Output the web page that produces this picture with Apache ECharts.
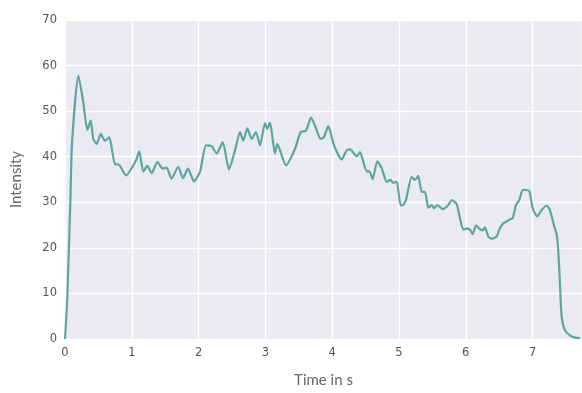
<!DOCTYPE html>
<html>
<head>
<meta charset="utf-8">
<script src="https://cdn.jsdelivr.net/npm/echarts@6/dist/echarts.min.js"></script>
<style>html,body{margin:0;padding:0;background:#fff}#c{width:582px;height:393px}</style>
</head>
<body>
<div id="c"></div>
<script>
const times = [0,0.034,0.08,0.105,0.20,0.274,0.334,0.385,0.424,0.475,0.534,0.599,0.663,0.749,0.798,0.913,1.063,1.112,1.172,1.232,1.298,1.385,1.457,1.522,1.594,1.696,1.766,1.841,1.931,2.021,2.111,2.196,2.271,2.361,2.455,2.545,2.620,2.669,2.729,2.795,2.859,2.919,2.994,3.028,3.069,3.144,3.178,3.308,3.443,3.528,3.608,3.683,3.743,3.828,3.877,3.942,4.027,4.142,4.217,4.266,4.367,4.416,4.516,4.555,4.606,4.675,4.741,4.816,4.876,4.906,4.966,5.025,5.064,5.105,5.190,5.240,5.289,5.340,5.389,5.439,5.490,5.524,5.573,5.654,5.738,5.789,5.864,5.913,5.963,6.013,6.063,6.103,6.153,6.213,6.253,6.287,6.337,6.388,6.463,6.502,6.561,6.602,6.651,6.702,6.751,6.801,6.852,6.901,6.951,7.002,7.070,7.136,7.211,7.260,7.325,7.361,7.385,7.410,7.436,7.485,7.560,7.635,7.710];
const intensity = [0,9,30,43,57.8,51.9,45.9,47.9,43.9,42.8,45,43.5,44.3,38.3,38.3,35.9,39.2,41.2,36.7,38,36.4,38.9,37.4,37.6,35.2,37.8,35.3,37.4,34.6,36.7,42.5,42.3,40.7,43.2,37.2,41.4,45.4,43.5,46.2,43.9,45.4,42.5,47.4,46.1,47.5,40.7,42.8,38.1,41.7,45.4,45.7,48.6,46.8,43.9,44.3,46.7,42.5,39.4,41.4,41.6,40.1,41,36.8,36.8,35.1,39,37.5,34.5,34.9,34.3,34.5,29.3,29.4,30.5,35.6,34.9,35.8,32.3,32.3,28.8,29.4,28.7,29.4,28.5,29.4,30.5,29.6,26.5,24,24.2,24,23,24.9,24.1,23.8,24.5,22.5,22,22.5,24,25.4,25.7,26.2,26.5,29.4,30.5,32.7,32.7,32.5,28.7,26.9,28.3,29.3,28.3,24.7,22.9,19.3,12,4.8,1.9,0.8,0.3,0.2];
const xTicks = [0,1,2,3,4,5,6,7];
const yTicks = [0,10,20,30,40,50,60,70];

const data = times.map((t,i)=>[t,intensity[i]]);
const chart = echarts.init(document.getElementById('c'), null, {renderer:'canvas'});
chart.setOption({
  animation:false,
  backgroundColor:'#ffffff',
  grid:{left:65,right:0,top:20,bottom:51,show:true,backgroundColor:'#EAEAF2',borderWidth:0},
  xAxis:{type:'value',min:0,max:7.74,interval:1,
    name:'Time in s',nameLocation:'middle',nameGap:34,
    nameTextStyle:{fontFamily:'Lato',fontSize:15,color:'#666'},
    axisLine:{show:false},axisTick:{show:false},
    axisLabel:{color:'#555',fontSize:11.5,fontFamily:'DejaVu Sans',margin:8,showMaxLabel:false,
      formatter:v=>xTicks.includes(v)?String(v):''},
    splitLine:{show:true,lineStyle:{color:'#ffffff',width:1.4}}},
  yAxis:{type:'value',min:0,max:70,interval:10,
    name:'Intensity',nameLocation:'middle',nameGap:41,
    nameTextStyle:{fontFamily:'Lato',fontSize:15,color:'#666'},
    axisLine:{show:false},axisTick:{show:false},
    axisLabel:{color:'#555',fontSize:11.5,fontFamily:'DejaVu Sans',margin:8,
      formatter:v=>yTicks.includes(v)?String(v):''},
    splitLine:{show:true,lineStyle:{color:'#ffffff',width:1.4}}},
  series:[{type:'line',data:data,showSymbol:false,smooth:0.2,
    lineStyle:{color:'#5DA5A0',width:2.2},itemStyle:{color:'#5DA5A0'}}]
});
</script>
</body>
</html>
